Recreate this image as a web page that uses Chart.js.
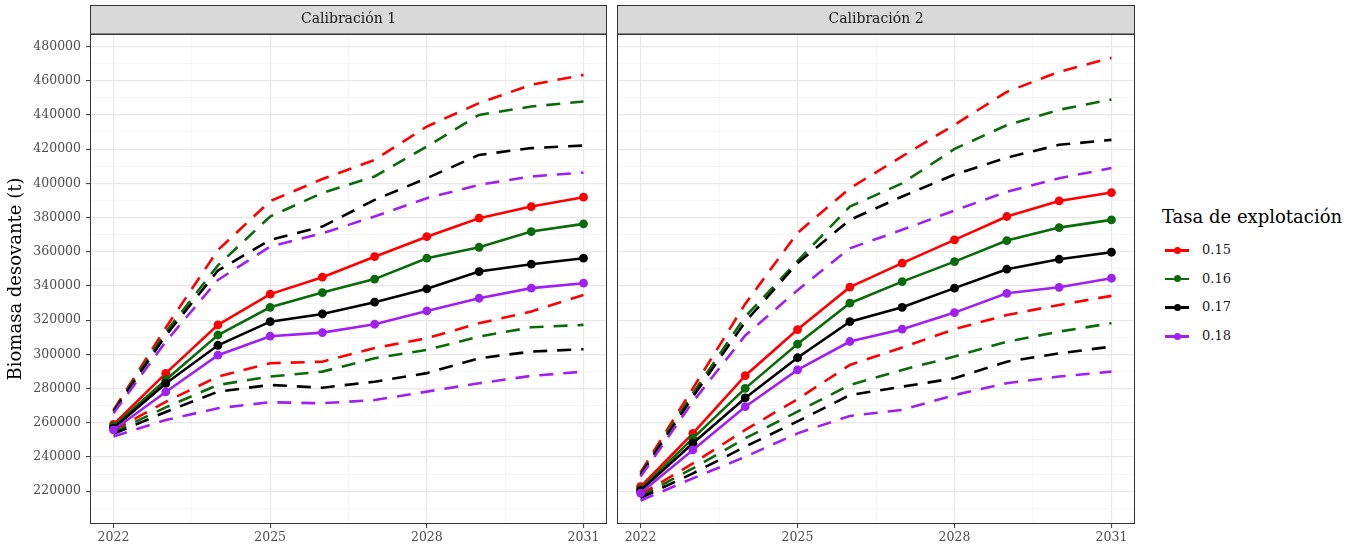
<!DOCTYPE html>
<html>
<head>
<meta charset="utf-8">
<script src="https://cdn.jsdelivr.net/npm/chart.js@4.4.1/dist/chart.umd.min.js"></script>
<style>
html,body{margin:0;padding:0;background:#fff;}
#wrap{position:relative;width:1360px;height:552px;font-family:'DejaVu Serif',serif;}
#c1{position:absolute;left:0;top:0;}
#c2{position:absolute;left:612px;top:0;}
#legend{position:absolute;left:1162px;top:205px;color:#1a1a1a;}
#legend .lt{font-size:18px;line-height:23px;color:#000;white-space:nowrap;}
#legend .it{position:relative;height:28.7px;font-size:13px;}
#legend .ln{position:absolute;left:3px;top:13px;width:24px;height:2.6px;}
#legend .dt{position:absolute;left:11.5px;top:10.8px;width:7px;height:7px;border-radius:50%;}
#legend .tx{position:absolute;left:40px;top:6px;}
</style>
</head>
<body>
<div id="wrap">
  <canvas id="c1" width="612" height="552"></canvas>
  <canvas id="c2" width="530" height="552"></canvas>
  <div id="legend"><div class="lt">Tasa de explotación</div><div id="items" style="margin-top:8px"></div></div>
</div>
<script>
/* ---- datos ---- */
const years  = [2022,2023,2024,2025,2026,2027,2028,2029,2030,2031];
const rates  = ['0.15','0.16','0.17','0.18'];
const colors = ['#ff0000','#0a6b0a','#000000','#a020f0'];
const panels = ['Calibración 1','Calibración 2'];

const yMajor = [220000,240000,260000,280000,300000,320000,340000,360000,380000,400000,420000,440000,460000,480000];
const yMinor = [210000,230000,250000,270000,290000,310000,330000,350000,370000,390000,410000,430000,450000,470000];
const xMajor = [2022,2025,2028,2031];
const xMinor = [2023.5,2026.5,2029.5];

// Calibración 1: estimación, límite superior, límite inferior
const c1Est = [
  [259000,288900,317200,335200,345100,357100,368800,379600,386400,391900],
  [258000,285000,311300,327500,336100,344000,356200,362600,371800,376300],
  [256800,283000,305300,319100,323600,330500,338300,348400,352700,356200],
  [255800,278000,299500,310600,312700,317600,325400,332800,338700,341600]
];
const c1Sup = [
  [267500,315500,361000,389600,402500,413700,433200,446900,457600,463400],
  [267000,313000,352000,380600,394400,404000,421500,440000,444900,447800],
  [266500,311000,349000,366900,374700,390300,403000,416600,420600,422100],
  [265500,307400,343500,363000,370800,380600,391300,399100,404000,406300]
];
const c1Inf = [
  [255500,272200,287000,294800,295700,303700,309400,318200,325000,334700],
  [254500,269000,282100,287000,289900,297700,302600,310400,315800,317200],
  [253500,266300,278200,282100,280500,284000,289000,297700,301600,303000],
  [252000,261600,268500,272000,271400,273300,278200,283100,287400,289900]
];
// Calibración 2
const c2Est = [
  [222600,253800,287500,314500,339300,353300,366900,380600,389700,394600],
  [221200,250900,280100,306000,329900,342500,354200,366500,374100,378600],
  [220300,248000,274500,298000,319100,327500,338700,349800,355600,359700],
  [218900,244100,269400,290900,307500,314700,324400,335700,339200,344500]
];
const c2Sup = [
  [231000,280100,329500,371000,397100,415800,434200,453500,465200,473400],
  [230000,277200,322000,354500,386400,400000,420100,434000,443000,449000],
  [229500,275200,319000,353300,378600,392300,405100,415000,422500,425400],
  [228500,272300,311000,337500,362000,372800,384100,395000,403000,408900]
];
const c2Inf = [
  [218000,236200,255800,273800,293800,304000,314700,323000,328900,334200],
  [217000,233300,250900,266500,282100,290900,298700,307400,313300,318200],
  [216000,230400,246000,260800,276200,281100,286000,295700,300600,304500],
  [214500,227500,240100,253800,264000,267500,276200,283100,287000,289900]
];

Chart.defaults.font.family = "'DejaVu Serif', serif";
Chart.defaults.color = '#4d4d4d';

const pts = arr => years.map((x,j)=>({x, y:arr[j]}));

function buildSets(est, sup, inf){
  const out = [];
  rates.forEach((r,i)=>{
    out.push({ label:r, data:pts(est[i]), borderColor:colors[i], backgroundColor:colors[i],
      borderWidth:2.6, pointRadius:4.4, pointBorderWidth:0, pointHoverRadius:4.4, order:3-i });
    [sup, inf].forEach(b=>{
      out.push({ label:r+' ic', data:pts(b[i]), borderColor:colors[i], borderWidth:2.6,
        borderDash:[14,10], pointRadius:0, order:13-i });
    });
  });
  return out;
}

const panelBox = {
  id:'panelBox',
  beforeDraw(c){
    const {ctx, chartArea:a} = c;
    ctx.save();
    ctx.fillStyle = '#d9d9d9';
    ctx.fillRect(a.left, 5, a.right-a.left, a.top-5);
    ctx.strokeStyle = '#333'; ctx.lineWidth = 1;
    ctx.strokeRect(a.left+0.5, 5.5, a.right-a.left-1, a.top-5.5);
    ctx.restore();
  },
  afterDraw(c){
    const {ctx, chartArea:a} = c;
    ctx.save();
    ctx.strokeStyle = '#333'; ctx.lineWidth = 1;
    ctx.strokeRect(a.left+0.5, a.top+0.5, a.right-a.left-1, a.bottom-a.top-1);
    ctx.restore();
  }
};

const isMajY = v => yMajor.includes(v);
const isMajX = v => xMajor.includes(v);

function makeChart(id, k, est, sup, inf){
  const first = k === 0;
  return new Chart(document.getElementById(id), {
    type:'line',
    data:{ datasets: buildSets(est, sup, inf) },
    plugins:[panelBox],
    options:{
      responsive:false, animation:false, events:[],
      layout:{ padding: first ? {top:5,right:5,bottom:0,left:0} : {top:5,right:7,bottom:0,left:5} },
      plugins:{
        legend:{display:false}, tooltip:{enabled:false},
        title:{ display:true, text:panels[k], fullSize:false, color:'#1a1a1a',
          font:{size:14, weight:'normal'}, padding:{top:6.2, bottom:6} }
      },
      scales:{
        x:{
          type:'linear', min:2021.55, max:2031.45,
          afterBuildTicks:s=>{ s.ticks = [...xMajor, ...xMinor].sort((a,b)=>a-b).map(v=>({value:v})); },
          afterFit:s=>{ s.height = 28; },
          border:{display:false},
          grid:{
            color:c=>isMajX(c.tick.value)?'#e8e8e8':'#f2f2f2',
            lineWidth:c=>isMajX(c.tick.value)?1.2:0.7,
            tickColor:c=>isMajX(c.tick.value)?'#333':'rgba(0,0,0,0)',
            tickLength:4, tickWidth:1
          },
          ticks:{ autoSkip:false, maxRotation:0, padding:2, color:'#4d4d4d', font:{size:12.5},
            callback:v=>isMajX(v)?String(v):'' }
        },
        y:{
          type:'linear', min:200800, max:487300,
          afterBuildTicks:s=>{ s.ticks = [...yMajor, ...yMinor].sort((a,b)=>a-b).map(v=>({value:v})); },
          afterFit:s=>{ s.width = first ? 90 : 0; },
          border:{display:false},
          title:{ display:first, text:'Biomasa desovante (t)', color:'#000',
            font:{size:18}, padding:{top:6,bottom:0} },
          grid:{
            color:c=>isMajY(c.tick.value)?'#e8e8e8':'#f2f2f2',
            lineWidth:c=>isMajY(c.tick.value)?1.2:0.7,
            tickColor:c=>isMajY(c.tick.value)?'#333':'rgba(0,0,0,0)',
            drawTicks:first, tickLength:4, tickWidth:1
          },
          ticks:{ display:first, autoSkip:false, padding:5, color:'#4d4d4d', font:{size:12.5},
            callback:v=>isMajY(v)?String(v):'' }
        }
      }
    }
  });
}

makeChart('c1', 0, c1Est, c1Sup, c1Inf);
makeChart('c2', 1, c2Est, c2Sup, c2Inf);

/* ---- leyenda ---- */
const items = document.getElementById('items');
rates.forEach((r,i)=>{
  const d = document.createElement('div');
  d.className = 'it';
  d.innerHTML = `<span class="ln" style="background:${colors[i]}"></span>`+
                `<span class="dt" style="background:${colors[i]}"></span>`+
                `<span class="tx">${r}</span>`;
  items.appendChild(d);
});
</script>
</body>
</html>
